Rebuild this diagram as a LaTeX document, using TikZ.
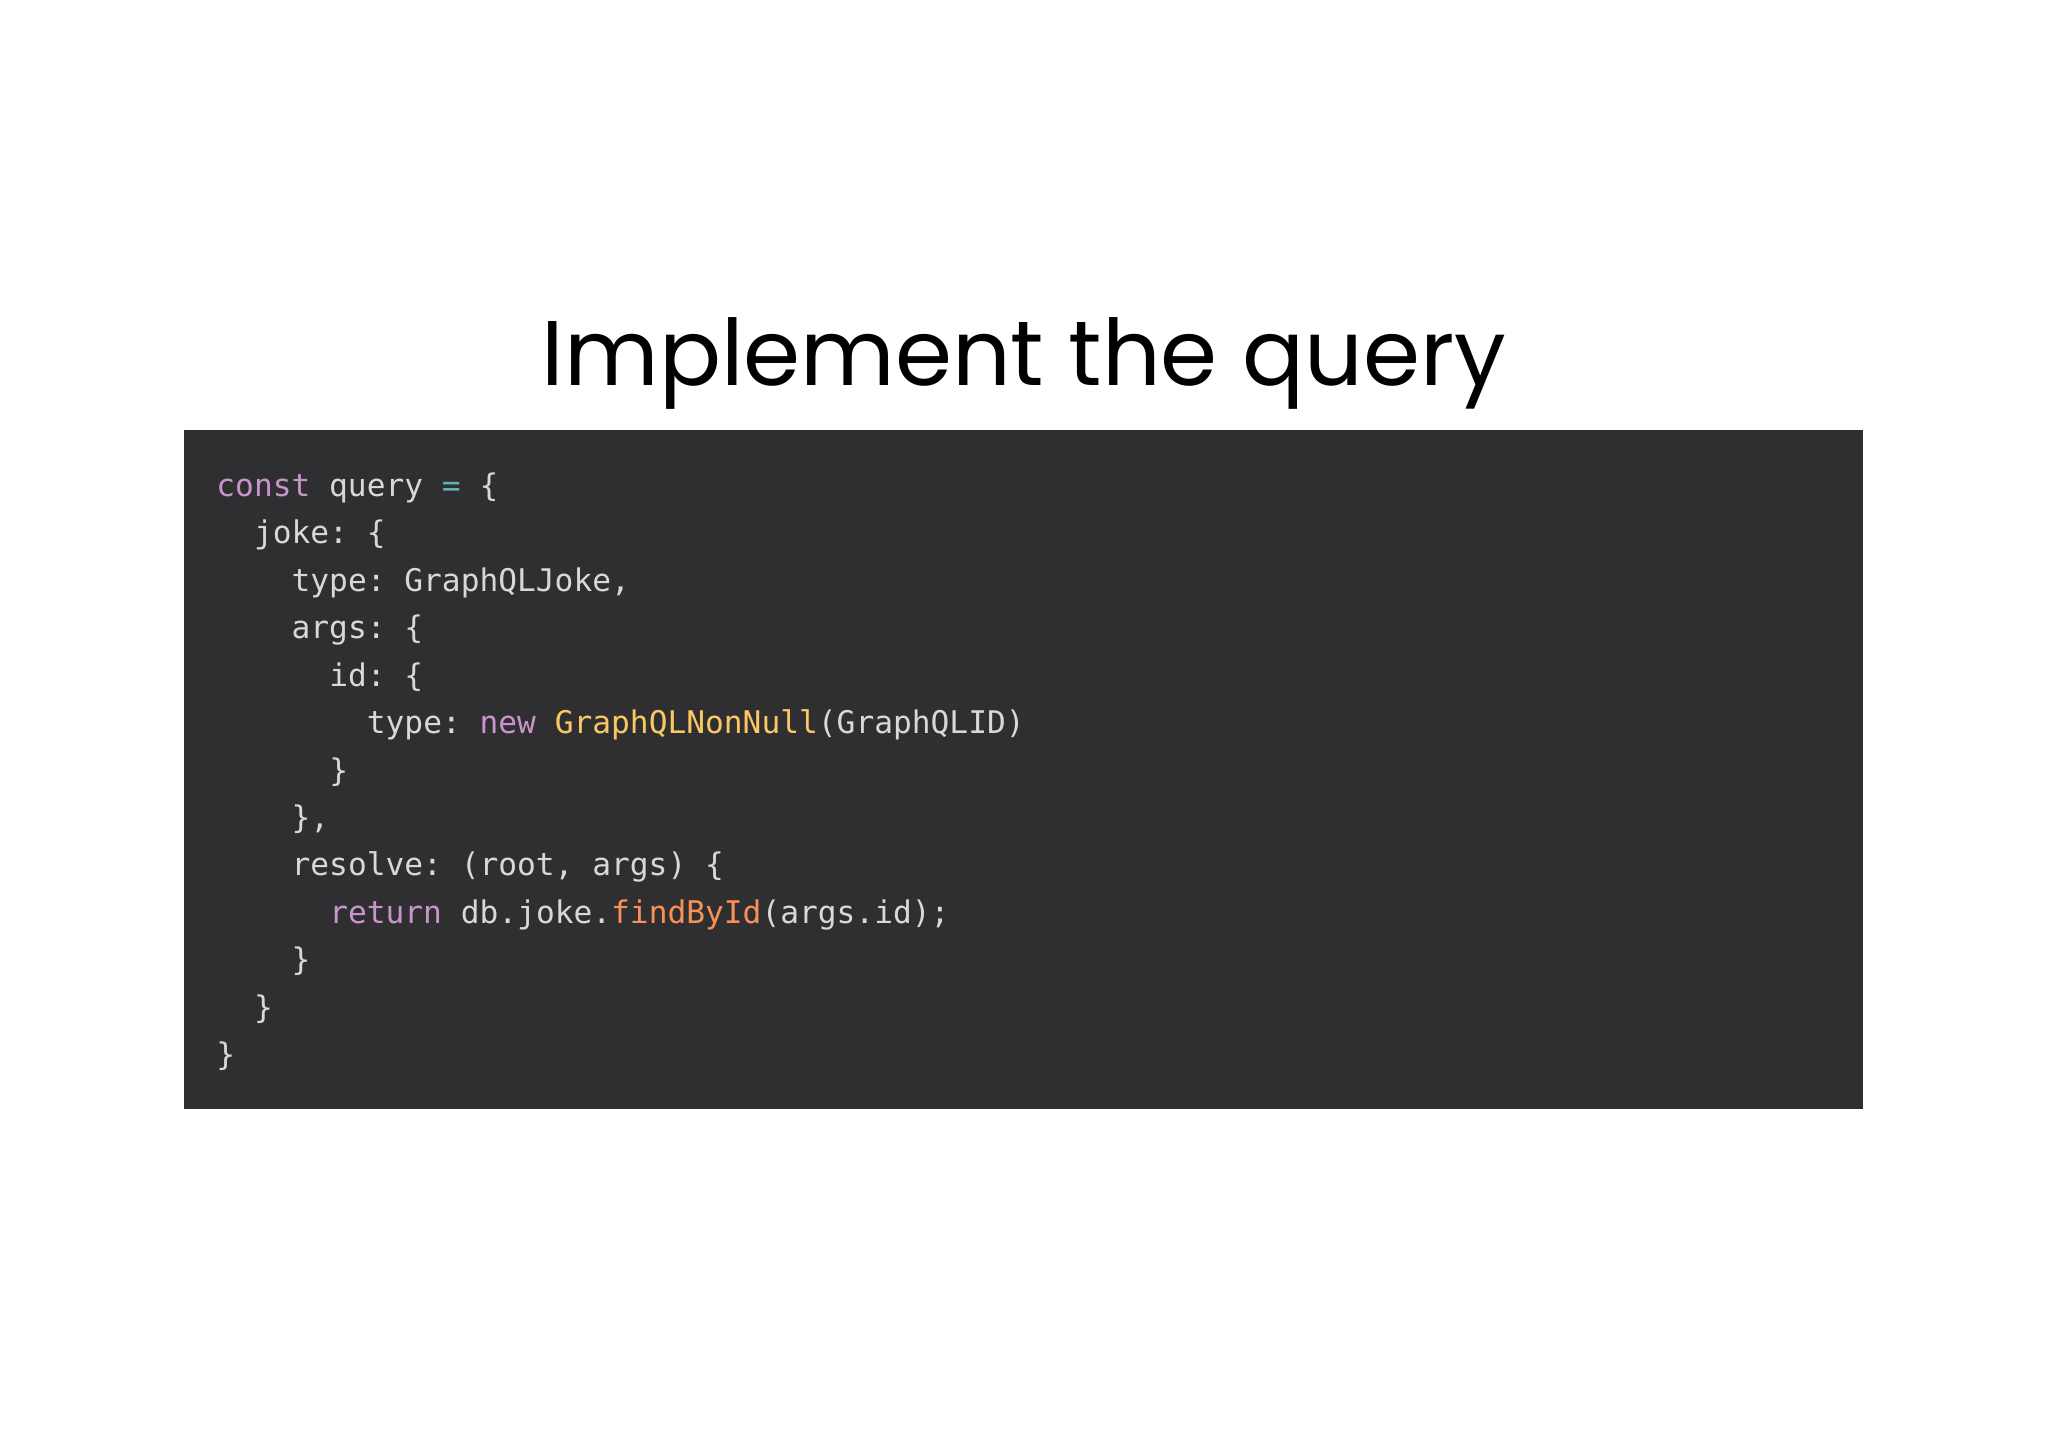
\documentclass[tikz,border=0pt]{standalone}
\usepackage{fontspec}
\setmainfont{Poppins}
\setmonofont{DejaVu Sans Mono}
\definecolor{bg}{HTML}{2F2F31}
\definecolor{txt}{HTML}{D8D8D8}
\definecolor{kw}{HTML}{C994CC}
\definecolor{op}{HTML}{5FB3B3}
\definecolor{yl}{HTML}{FAC863}
\definecolor{orn}{HTML}{F99157}
\begin{document}
\begin{tikzpicture}[x=1cm,y=1cm,
  code/.style={anchor=base west,inner sep=0pt,text=txt,font=\ttfamily\fontsize{6.8}{8}\selectfont}]
\useasboundingbox[fill=white] (0,0) rectangle (15.68,11.086);
\node[anchor=base,inner sep=0pt,font=\fontsize{20}{24}\selectfont] (title) at (7.84,8.136) {Implement the query};
\fill[bg] (1.41,7.796) rectangle (14.26,2.596);
\def\cx#1{1.65+#1*0.144}
\def\cy#1{7.286-#1*0.3633}
\node[code] (l0) at ({\cx0},{\cy0}) {\textcolor{kw}{const} query \textcolor{op}{=} \{};
\node[code] (l1) at ({\cx2},{\cy1}) {joke: \{};
\node[code] (l2) at ({\cx4},{\cy2}) {type: GraphQLJoke,};
\node[code] (l3) at ({\cx4},{\cy3}) {args: \{};
\node[code] (l4) at ({\cx6},{\cy4}) {id: \{};
\node[code] (l5) at ({\cx8},{\cy5}) {type: \textcolor{kw}{new} \textcolor{yl}{GraphQLNonNull}(GraphQLID)};
\node[code] (l6) at ({\cx6},{\cy6}) {\}};
\node[code] (l7) at ({\cx4},{\cy7}) {\},};
\node[code] (l8) at ({\cx4},{\cy8}) {resolve: (root, args) \{};
\node[code] (l9) at ({\cx6},{\cy9}) {\textcolor{kw}{return} db.joke.\textcolor{orn}{findById}(args.id);};
\node[code] (l10) at ({\cx4},{\cy{10}}) {\}};
\node[code] (l11) at ({\cx2},{\cy{11}}) {\}};
\node[code] (l12) at ({\cx0},{\cy{12}}) {\}};
\end{tikzpicture}
\end{document}
